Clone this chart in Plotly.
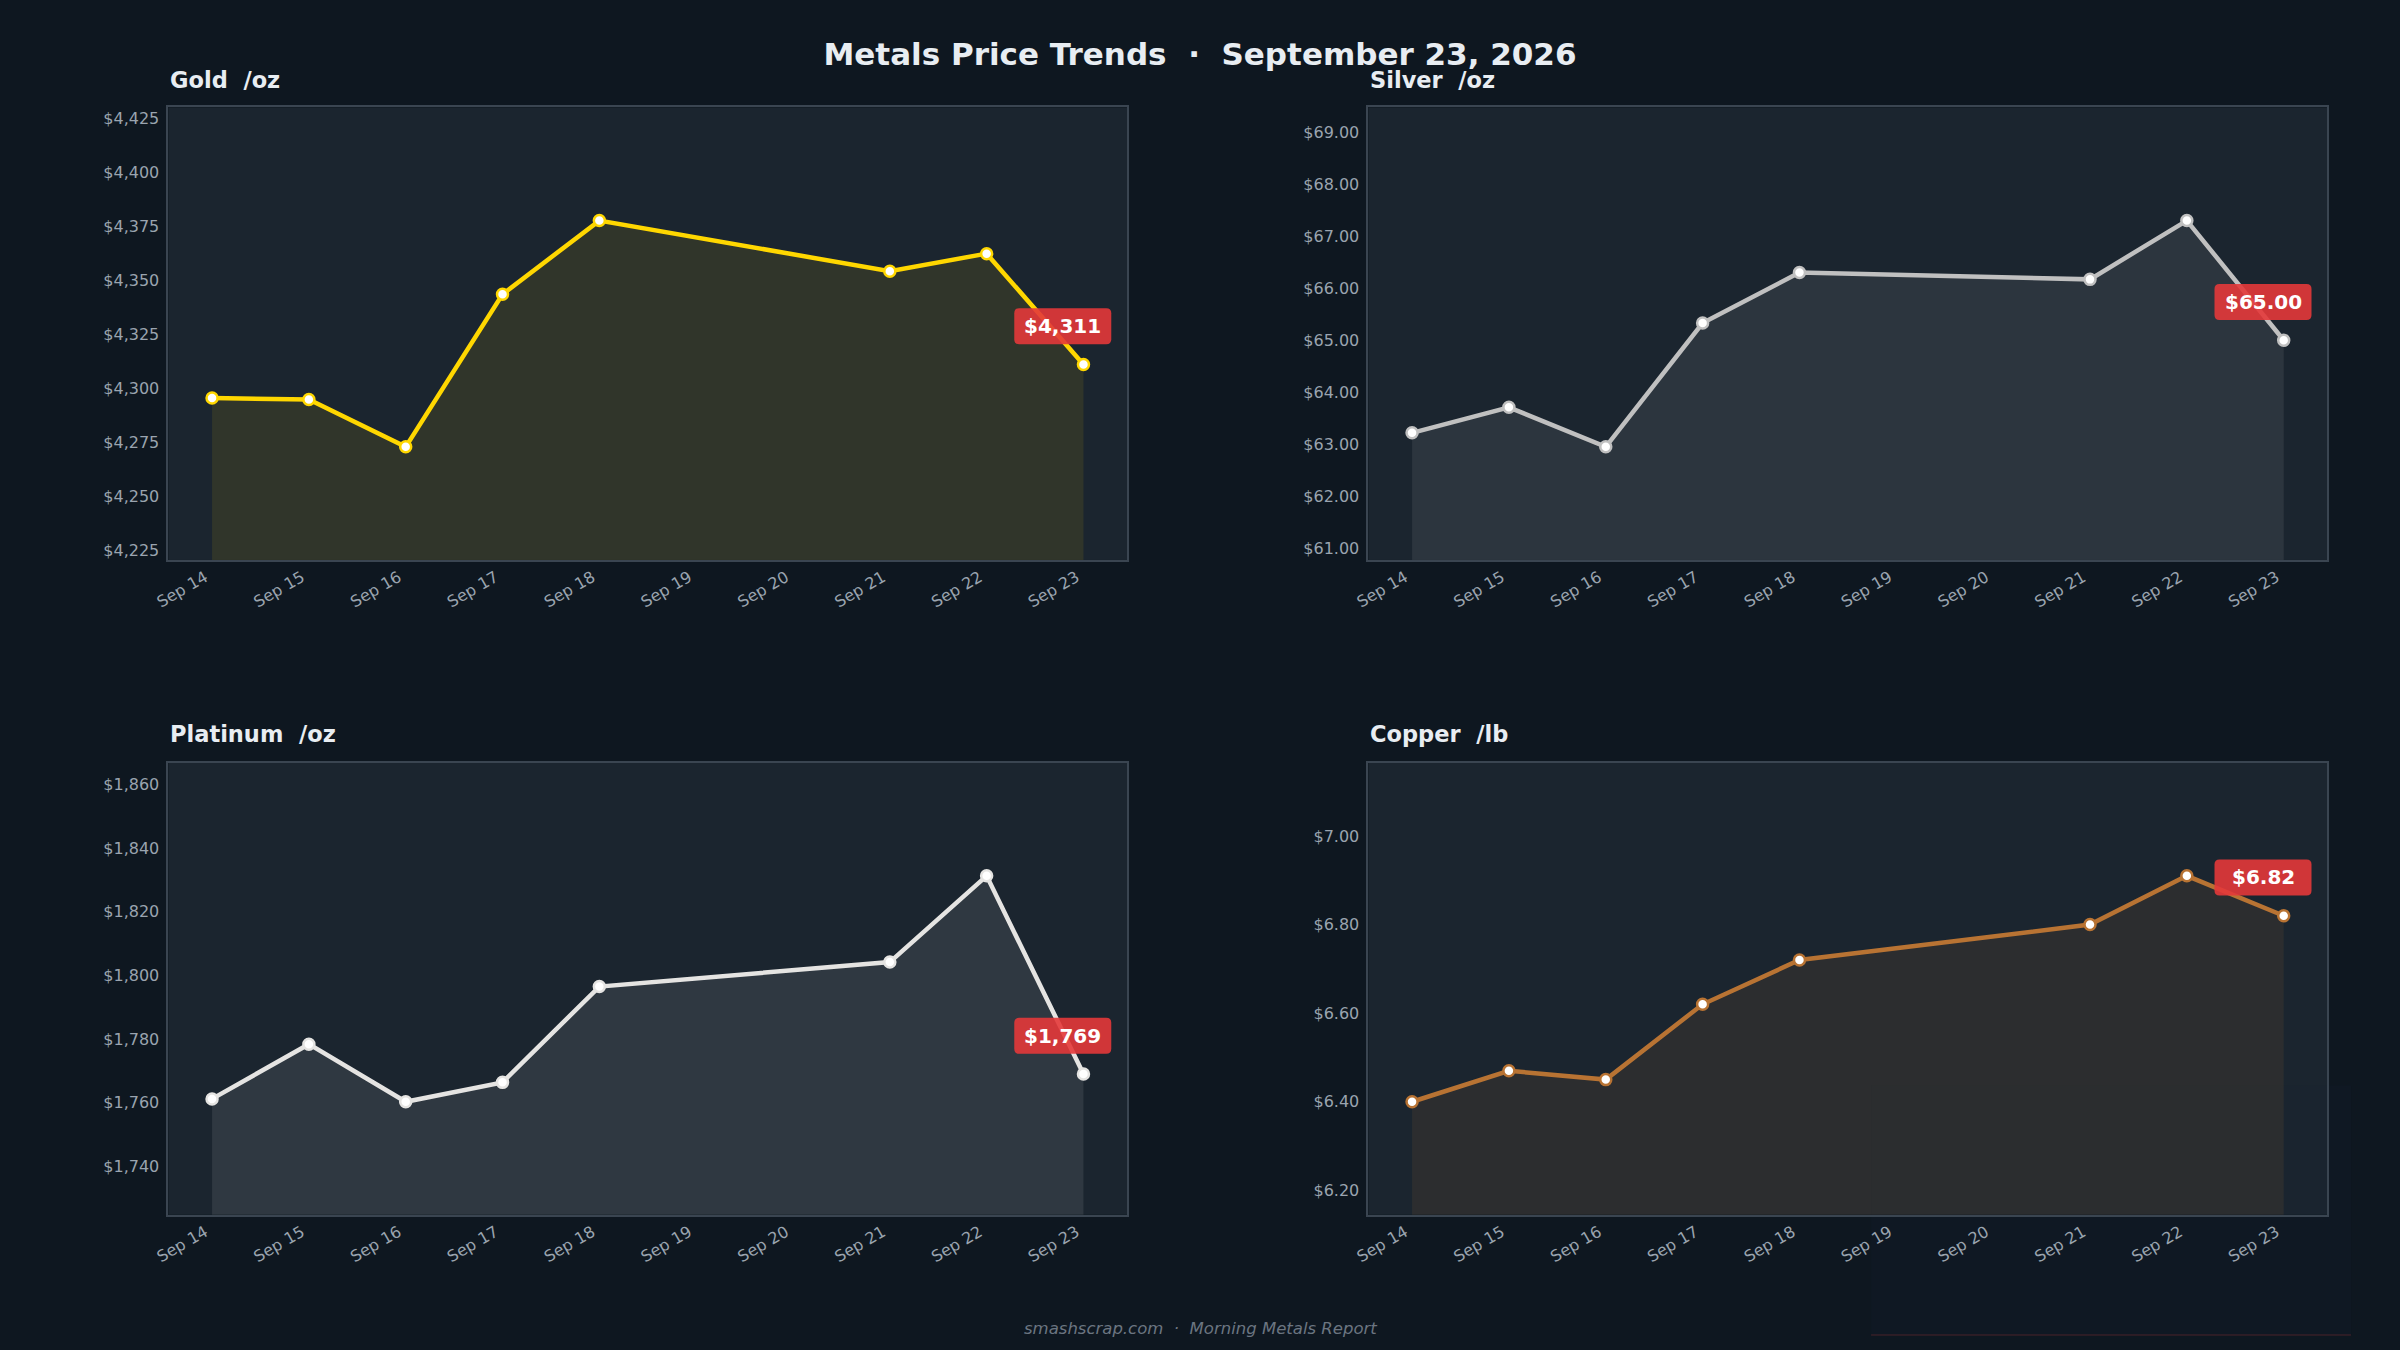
import plotly.graph_objects as go

# ---------------- data ----------------
dates = ["2026-09-14", "2026-09-15", "2026-09-16", "2026-09-17",
         "2026-09-18", "2026-09-21", "2026-09-22", "2026-09-23"]

gold = [4295.5, 4294.8, 4272.9, 4343.5, 4377.6, 4354.2, 4362.3, 4311.0]
silver = [63.22, 63.71, 62.95, 65.33, 66.30, 66.17, 67.30, 65.00]
platinum = [1761.2, 1778.4, 1760.3, 1766.4, 1796.5, 1804.2, 1831.3, 1769.0]
copper = [6.40, 6.47, 6.45, 6.62, 6.72, 6.80, 6.91, 6.82]

names = ["Gold", "Silver", "Platinum", "Copper"]
units = ["/oz", "/oz", "/oz", "/lb"]
series = [gold, silver, platinum, copper]
line_colors = ["#FFD700", "#C0C0C0", "#E5E4E2", "#B87333"]
fill_colors = ["rgba(255,215,0,0.095)", "rgba(192,192,192,0.10)",
               "rgba(229,228,226,0.10)", "rgba(184,115,51,0.11)"]
tick_formats = [",.0f", ".2f", ",.0f", ".2f"]
dticks = [25, 1, 20, 0.2]
label_texts = ["$4,311", "$65.00", "$1,769", "$6.82"]

title_text = "Metals Price Trends\u00a0\u00a0·\u00a0\u00a0September 23, 2026"
footer_text = "smashscrap.com\u00a0\u00a0·\u00a0\u00a0Morning Metals Report"

# ---------------- style ----------------
PAPER = "#0e1720"
PLOT = "#1b252f"
FRAME = "#3a4551"
TICK = "#9aa4af"
TITLE = "#e8edf2"
FONT = "DejaVu Sans"

x_domains = [[0.0702, 0.4696], [0.5702, 0.9697], [0.0702, 0.4696], [0.5702, 0.9697]]
y_domains = [[0.5852, 0.9204], [0.5852, 0.9204], [0.1002, 0.4349], [0.1002, 0.4349]]
title_y = [0.9411, 0.9411, 0.4563, 0.4563]

fig = go.Figure()

layout = dict(
    width=2400, height=1350,
    paper_bgcolor=PAPER, plot_bgcolor=PLOT,
    margin=dict(l=0, r=0, t=0, b=0),
    showlegend=False,
    font=dict(family=FONT, color=TICK, size=16),
    title=dict(text="<b>" + title_text + "</b>", x=0.5, xanchor="center",
               y=0.9600, yanchor="middle",
               font=dict(family=FONT, size=31, color=TITLE)),
)

annotations = []
shapes = []

# rounded label box (pixel offsets relative to the last point)
bw, bh, r = 97, 36, 5
cx, cy = -20.7, 38.3
x0, x1 = cx - bw / 2, cx + bw / 2
y0, y1 = cy - bh / 2, cy + bh / 2
box_path = (f"M {x0+r},{y0} L {x1-r},{y0} Q {x1},{y0} {x1},{y0+r} "
            f"L {x1},{y1-r} Q {x1},{y1} {x1-r},{y1} L {x0+r},{y1} "
            f"Q {x0},{y1} {x0},{y1-r} L {x0},{y0+r} Q {x0},{y0} {x0+r},{y0} Z")

for i, (nm, un, vals) in enumerate(zip(names, units, series)):
    k = "" if i == 0 else str(i + 1)
    xa, ya = "x" + k, "y" + k
    fig.add_trace(go.Scatter(
        x=dates, y=vals, mode="lines+markers",
        line=dict(color=line_colors[i], width=4.5),
        marker=dict(size=11, color="white",
                    line=dict(color=line_colors[i], width=2.5)),
        fill="tozeroy", fillcolor=fill_colors[i],
        xaxis=xa, yaxis=ya, hoverinfo="skip",
    ))
    lo, hi = min(vals), max(vals)
    pad = (hi - lo) * 0.5
    layout["xaxis" + k] = dict(
        domain=x_domains[i], anchor=ya, type="date",
        range=["2026-09-13 13:12", "2026-09-23 10:48"],
        tick0="2026-09-14", dtick=86400000, tickformat="%b %d",
        tickangle=-30, showgrid=False, zeroline=False,
        showline=True, mirror=True, linecolor=FRAME, linewidth=2,
        ticks="", tickfont=dict(size=16, color=TICK, family=FONT),
        ticklabelshift=-7,
        automargin=False, fixedrange=True,
    )
    layout["yaxis" + k] = dict(
        domain=y_domains[i], anchor=xa,
        range=[lo - pad, hi + pad], dtick=dticks[i], tick0=0,
        tickprefix="$", tickformat=tick_formats[i],
        showgrid=False, zeroline=False,
        showline=True, mirror=True, linecolor=FRAME, linewidth=2,
        ticks="", tickfont=dict(size=16, color=TICK, family=FONT),
        ticklabelstandoff=4,
        automargin=False, fixedrange=True,
    )
    # subplot title
    annotations.append(dict(
        text="<b>" + nm + "\u00a0\u00a0" + un + "</b>",
        xref="paper", yref="paper", x=x_domains[i][0], y=title_y[i],
        xanchor="left", yanchor="middle", showarrow=False,
        font=dict(family=FONT, size=22.5, color=TITLE),
    ))
    # last value label
    shapes.append(dict(
        type="path", xref=xa, yref=ya,
        xsizemode="pixel", ysizemode="pixel",
        xanchor=dates[-1], yanchor=vals[-1],
        path=box_path, fillcolor="rgba(228,56,58,0.9)",
        line=dict(width=0), layer="above",
    ))
    annotations.append(dict(
        text="<b>" + label_texts[i] + "</b>",
        xref=xa, yref=ya, x=dates[-1], y=vals[-1],
        xshift=cx, yshift=cy, xanchor="center", yanchor="middle",
        showarrow=False, font=dict(family=FONT, size=20, color="white"),
    ))

# footer
annotations.append(dict(
    text="<i>" + footer_text + "</i>", xref="paper", yref="paper",
    x=0.5, y=1 - 1328 / 1350, xanchor="center", yanchor="middle",
    showarrow=False, font=dict(family=FONT, size=16.5, color="#6b7580"),
))

# faint ghost panel, bottom right
shapes.append(dict(
    type="rect", xref="paper", yref="paper",
    x0=0.7796, x1=0.9796, y0=0.0111, y1=0.196,
    fillcolor="rgba(20,32,52,0.18)", line=dict(width=0), layer="below",
))
shapes.append(dict(
    type="line", xref="paper", yref="paper",
    x0=0.7796, x1=0.9796, y0=0.0111, y1=0.0111,
    line=dict(color="rgba(214,58,58,0.15)", width=2), layer="below",
))

layout["annotations"] = annotations
layout["shapes"] = shapes
fig.update_layout(**layout)

fig.write_html(
    "out.html",
    config={"displayModeBar": False},
    post_script="document.body.style.margin='0';"
                "document.body.style.background='" + PAPER + "';",
)
